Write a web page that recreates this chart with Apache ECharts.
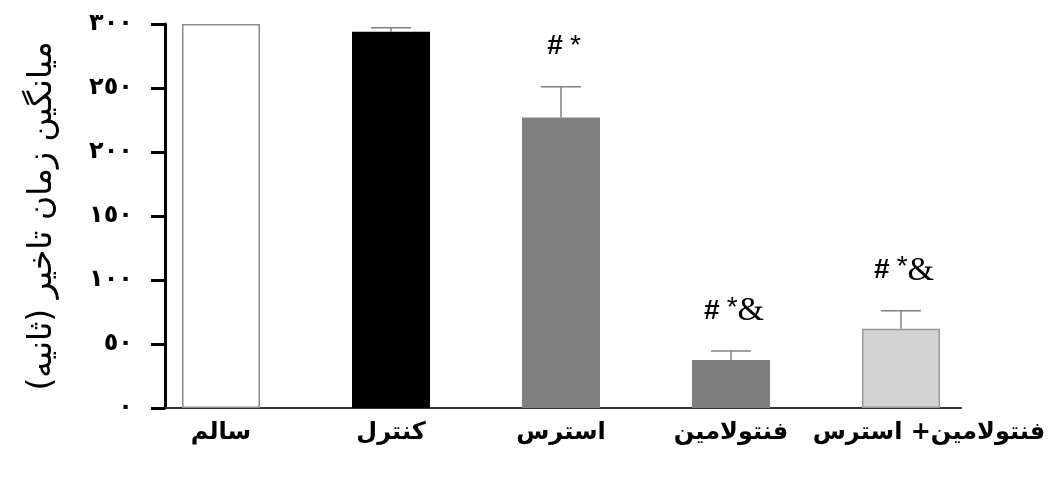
<!DOCTYPE html>
<html>
<head>
<meta charset="utf-8">
<script src="https://cdn.jsdelivr.net/npm/echarts@6/dist/echarts.min.js"></script>
<style>
html,body{margin:0;padding:0;background:#fff;}
#chart{width:1062px;height:479px;}
</style>
</head>
<body>
<div id="chart"></div>
<script>
const categories = ['سالم', 'کنترل', 'استرس', 'فنتولامین', 'فنتولامین+ استرس'];
const means = [300, 294, 227, 37.5, 62];
const errors = [0, 3, 24, 7, 14];
const annotations = ['', '', '# *', '# *&', '# *&'];
const yTickValues = [0, 50, 100, 150, 200, 250, 300];
const yTickLabels = ['٠', '٥٠', '١٠٠', '١٥٠', '٢٠٠', '٢٥٠', '٣٠٠'];
const yAxisTitle = 'میانگین زمان تاخیر (ثانیه)\u200F';
const barColors = ['#ffffff', '#000000', '#808080', '#7f7f7f', '#d3d3d3'];
const barBorders = ['#8a8a8a', '#000000', '#808080', '#7f7f7f', '#9a9a9a'];

const chart = echarts.init(document.getElementById('chart'));

function richFor(txt) {
  let out = '';
  for (const ch of txt) {
    if (ch === '#') out += '{h|#}';
    else if (ch === '*') out += '{s|*}';
    else if (ch === '&') out += '{a|&}';
    else out += '{sp| }';
  }
  return out;
}

// last label sits a little to the right of its bar in the reference
const categoryData = categories.map((c, i) => i === categories.length - 1
  ? {value: c, textStyle: {padding: [0, 0, 0, 56]}}
  : c);

const option = {
  backgroundColor: '#ffffff',
  animation: false,
  grid: [
    {left: 136, right: 76, top: 24, bottom: 71},
    {left: 165, right: 101, top: 24, bottom: 71}
  ],
  xAxis: [
    {
      type: 'category', gridIndex: 0, data: categoryData,
      axisLine: {show: false}, axisTick: {show: false},
      axisLabel: {interval: 0, color: '#000', fontSize: 24, fontWeight: 'bold', fontFamily: 'DejaVu Sans', margin: 13}
    },
    {
      type: 'value', gridIndex: 1, min: 0, max: 1,
      axisLine: {show: true, lineStyle: {color: '#333', width: 2}},
      axisTick: {show: false}, axisLabel: {show: false}, splitLine: {show: false}
    }
  ],
  yAxis: [
    {type: 'value', gridIndex: 0, min: 0, max: 300, show: false},
    {
      type: 'value', gridIndex: 1, min: 0, max: 300, interval: 50,
      name: yAxisTitle, nameLocation: 'middle', nameRotate: 90, nameGap: 106,
      nameTextStyle: {color: '#000', fontSize: 33, fontFamily: 'DejaVu Sans'},
      axisLine: {show: true, lineStyle: {color: '#000', width: 3}},
      axisTick: {show: true, length: 14, lineStyle: {color: '#000', width: 3}},
      axisLabel: {
        color: '#000', fontSize: 24, fontWeight: 'bold', fontFamily: 'DejaVu Sans', margin: 32,
        formatter: v => { const i = yTickValues.indexOf(v); return i >= 0 ? yTickLabels[i] : ''; }
      },
      splitLine: {show: false}
    }
  ],
  series: [
    {
      type: 'bar', xAxisIndex: 0, yAxisIndex: 0, barWidth: 78,
      data: means.map((v, i) => ({value: v, itemStyle: {color: barColors[i], borderColor: barBorders[i], borderWidth: 1.5}})),
      z: 2
    },
    {
      type: 'custom', xAxisIndex: 0, yAxisIndex: 0, z: 3,
      data: means.map((v, i) => [i, v, errors[i]]),
      renderItem: function (params, api) {
        const i = api.value(0), m = api.value(1), e = api.value(2);
        const base = api.coord([i, m]);
        const top = api.coord([i, m + e]);
        const children = [];
        if (e > 0) {
          children.push({type: 'line', shape: {x1: base[0], y1: base[1], x2: top[0], y2: top[1]}, style: {stroke: '#808080', lineWidth: 1.5}});
          children.push({type: 'line', shape: {x1: top[0] - 20, y1: top[1], x2: top[0] + 20, y2: top[1]}, style: {stroke: '#808080', lineWidth: 1.5}});
        }
        const ann = annotations[params.dataIndex];
        if (ann) {
          children.push({
            type: 'text',
            style: {
              x: top[0] + 3, y: top[1] - 40, align: 'center', verticalAlign: 'middle',
              text: richFor(ann),
              rich: {
                h: {fontSize: 28, fontWeight: 'bold', fontFamily: 'Liberation Sans', fill: '#000'},
                s: {fontSize: 28, fontFamily: 'Liberation Sans', fill: '#000', verticalAlign: 'top'},
                a: {fontSize: 34, fontFamily: 'Liberation Serif', fill: '#000'},
                sp: {fontSize: 26, fontFamily: 'Liberation Sans'}
              }
            }
          });
        }
        return {type: 'group', children: children};
      }
    }
  ]
};
chart.setOption(option);
</script>
</body>
</html>
